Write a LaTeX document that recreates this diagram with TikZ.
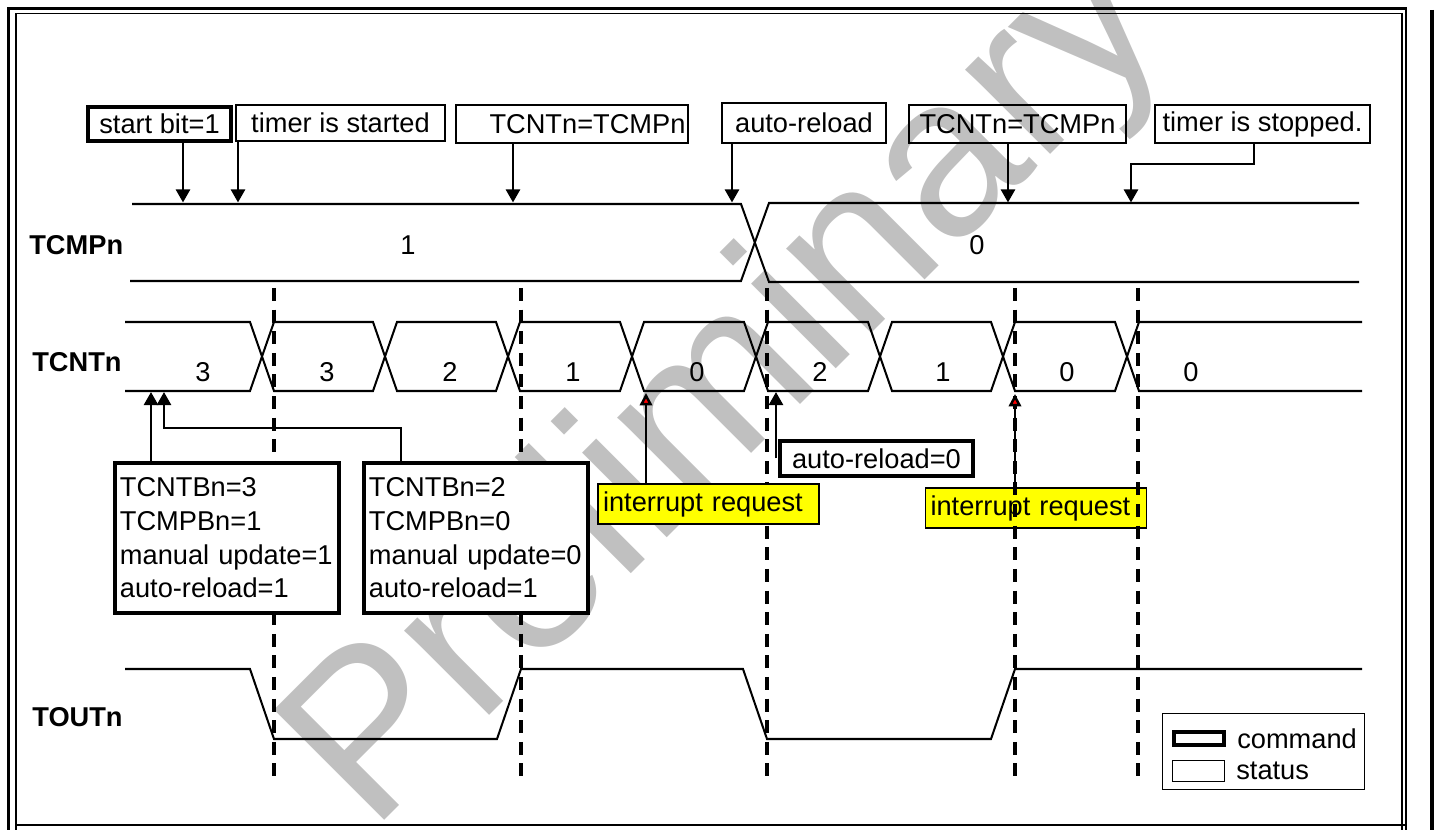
\documentclass[tikz,border=0pt]{standalone}
\usepackage{fontspec}
\setmainfont{Liberation Sans}
\usepackage{tikz}
\usetikzlibrary{arrows.meta,calc,positioning}
\definecolor{wmcolor}{RGB}{192,192,192}
\definecolor{irqcolor}{RGB}{255,255,0}
\newcommand{\lblsize}{\fontsize{15.5}{19.1}\selectfont}

\begin{document}
\begin{tikzpicture}[x=0.02cm,y=-0.02cm,>={Triangle[width=8pt,length=7.5pt]},
  every node/.style={font=\lblsize,inner sep=0pt},
  sig/.style={line width=1.15pt},
  edgeline/.style={line width=1.9pt,dash pattern=on 7.4pt off 4.9pt},
  arr/.style={->,line width=1.6pt},
  irqarr/.style={-{Triangle[width=7pt,length=7pt,fill=red]},line width=1.4pt},
  status/.style={draw,line width=1.1pt},
  command/.style={draw,line width=2.2pt,fill=white},
  irq/.style={draw,line width=1.1pt,fill=irqcolor,minimum height=0.8cm,
    text width=4.22cm,inner xsep=0.1cm,align=left}]
  \useasboundingbox (0,0) rectangle (1434,830);
  % watermark
  \node[text=wmcolor,font=\fontsize{129}{130}\selectfont,rotate=45,anchor=base west]
    (wmark) at (371,834) {Preliminary};
  % page frame
  \draw[line width=1.4pt] (8.5,830) -- (8.5,8.5) -- (1406,8.5) -- (1406,830);
  \draw[line width=0.7pt] (16,830) -- (16,13.5) -- (1402,13.5) -- (1402,830);
  \draw[line width=1.3pt] (16,825) -- (1406,825);
  \draw[line width=2.3pt] (1432,10) -- (1432,830);

  \node[irq] (irq2) at (1036,508) {interrupt request};
  % timing marks
  \foreach \x in {274,521,767,1015,1138}
    \draw[edgeline] (\x,288) -- (\x,785);

  % TCMPn
  \node[font=\lblsize\bfseries,anchor=west] (lcmp) at (29,245) {TCMPn};
  \draw[sig] (132,204) -- (741,204) -- (769,282) -- (1359,282);
  \draw[sig] (130,281) -- (741,281) -- (769,203) -- (1359,203);
  \node (cmp1) at (408,245) {1};
  \node (cmp0) at (977,245) {0};

  % TCNTn
  \node[font=\lblsize\bfseries,anchor=west] (lcnt) at (32,362) {TCNTn};
  \draw[sig] (125,322) -- (250,322) -- (262,356.5) -- (250,391) -- (125,391);
  \foreach \a/\b in {262/385,385/508,508/632,632/756,756/880,880/1003,1003/1127}
    \draw[sig] (\a,356.5) -- (\a+12,322) -- (\b-12,322) -- (\b,356.5) -- (\b-12,391) -- (\a+12,391) -- cycle;
  \draw[sig] (1362,322) -- (1139,322) -- (1127,356.5) -- (1139,391) -- (1362,391);
  \foreach \x/\v [count=\i] in {203/3,327/3,450/2,573/1,697/0,820/2,943/1,1067/0,1191/0}
    \node (cnt\i) at (\x,372) {\v};

  % TOUTn
  \node[font=\lblsize\bfseries,anchor=west] (lout) at (32,717) {TOUTn};
  \draw[sig] (125,669) -- (250,669) -- (274,739) -- (497,739) -- (521,669) -- (743,669)
    -- (767,739) -- (991,739) -- (1015,669) -- (1362,669);

  % events on top
  \node[command,minimum width=2.86cm,minimum height=0.68cm] (sb) at (159.5,124) {start bit=1};
  \node[status,minimum width=4.18cm,minimum height=0.72cm] (tst) at (340.5,123) {timer is started};
  \node[status,minimum height=0.76cm,text width=4.54cm,inner xsep=0.05cm,align=right] (eq1) at (572,124) {TCNTn=TCMPn};
  \node[status,minimum width=3.28cm,minimum height=0.8cm] (arl) at (804,123) {auto-reload};
  \node[status,minimum width=4.34cm,minimum height=0.76cm] (eq2) at (1017.5,124) {TCNTn=TCMPn};
  \node[status,minimum width=4.3cm,minimum height=0.76cm] (tsp) at (1262.5,124) {timer is stopped.};
  \coordinate (a1) at (183,202.5);
  \coordinate (a2) at (238,202.5);
  \coordinate (a3) at (513,202.5);
  \coordinate (a4) at (732,202.5);
  \coordinate (a5) at (1008,202.5);
  \coordinate (a6) at (1131,202.5);
  \draw[arr] (sb.south -| a1) -- (a1);
  \draw[arr] (tst.south -| a2) -- (a2);
  \draw[arr] (eq1.south -| a3) -- (a3);
  \draw[arr] (arl.south -| a4) -- (a4);
  \draw[arr] (eq2.south -| a5) -- (a5);
  \draw[arr] ($(tsp.south)+(-8.5,0)$) -- ++(0,20) -| (a6);

  % buffer writes
  \node[command,anchor=north west,text width=4.28cm,inner xsep=0.1cm,minimum height=3cm,align=left]
    (cb1) at (113,461) {TCNTBn=3\\TCMPBn=1\\manual update=1\\auto-reload=1};
  \node[command,anchor=north west,text width=4.28cm,inner xsep=0.1cm,minimum height=3cm,align=left]
    (cb2) at (362,461) {TCNTBn=2\\TCMPBn=0\\manual update=0\\auto-reload=1};
  \coordinate (u1) at (151,392);
  \coordinate (u2) at (164,392);
  \draw[arr] (cb1.north -| u1) -- (u1);
  \draw[arr] ($(cb2.north)+(-75,0)$) -- ++(0,-33) -| (u2);

  \node[irq] (irq1) at (708.5,504) {interrupt request};
  \node[command,minimum width=3.86cm,minimum height=0.7cm] (ar0) at (876.5,458.5) {auto-reload=0};
  \coordinate (r1) at (646,393);
  \coordinate (r2) at (1015,394);
  \coordinate (u3) at (776,392);
  \draw[irqarr] (irq1.north -| r1) -- (r1);
  \draw[irqarr] (irq2.north -| r2) -- (r2);
  \draw[arr] (ar0.west -| u3) -- (u3);

  % legend
  \node[draw,line width=1.1pt,minimum width=4.04cm,minimum height=1.52cm] (legend) at (1263.5,751.5) {};
  \node[command,minimum width=1cm,minimum height=0.26cm] (kcmd) at (1199,738.5) {};
  \node[status,minimum width=1.04cm,minimum height=0.42cm] (ksts) at (1198.5,771) {};
  \node[right=0.22cm of kcmd] (tcmd) {command};
  \node[right=0.21cm of ksts] (tsts) {status};
\end{tikzpicture}
\end{document}
